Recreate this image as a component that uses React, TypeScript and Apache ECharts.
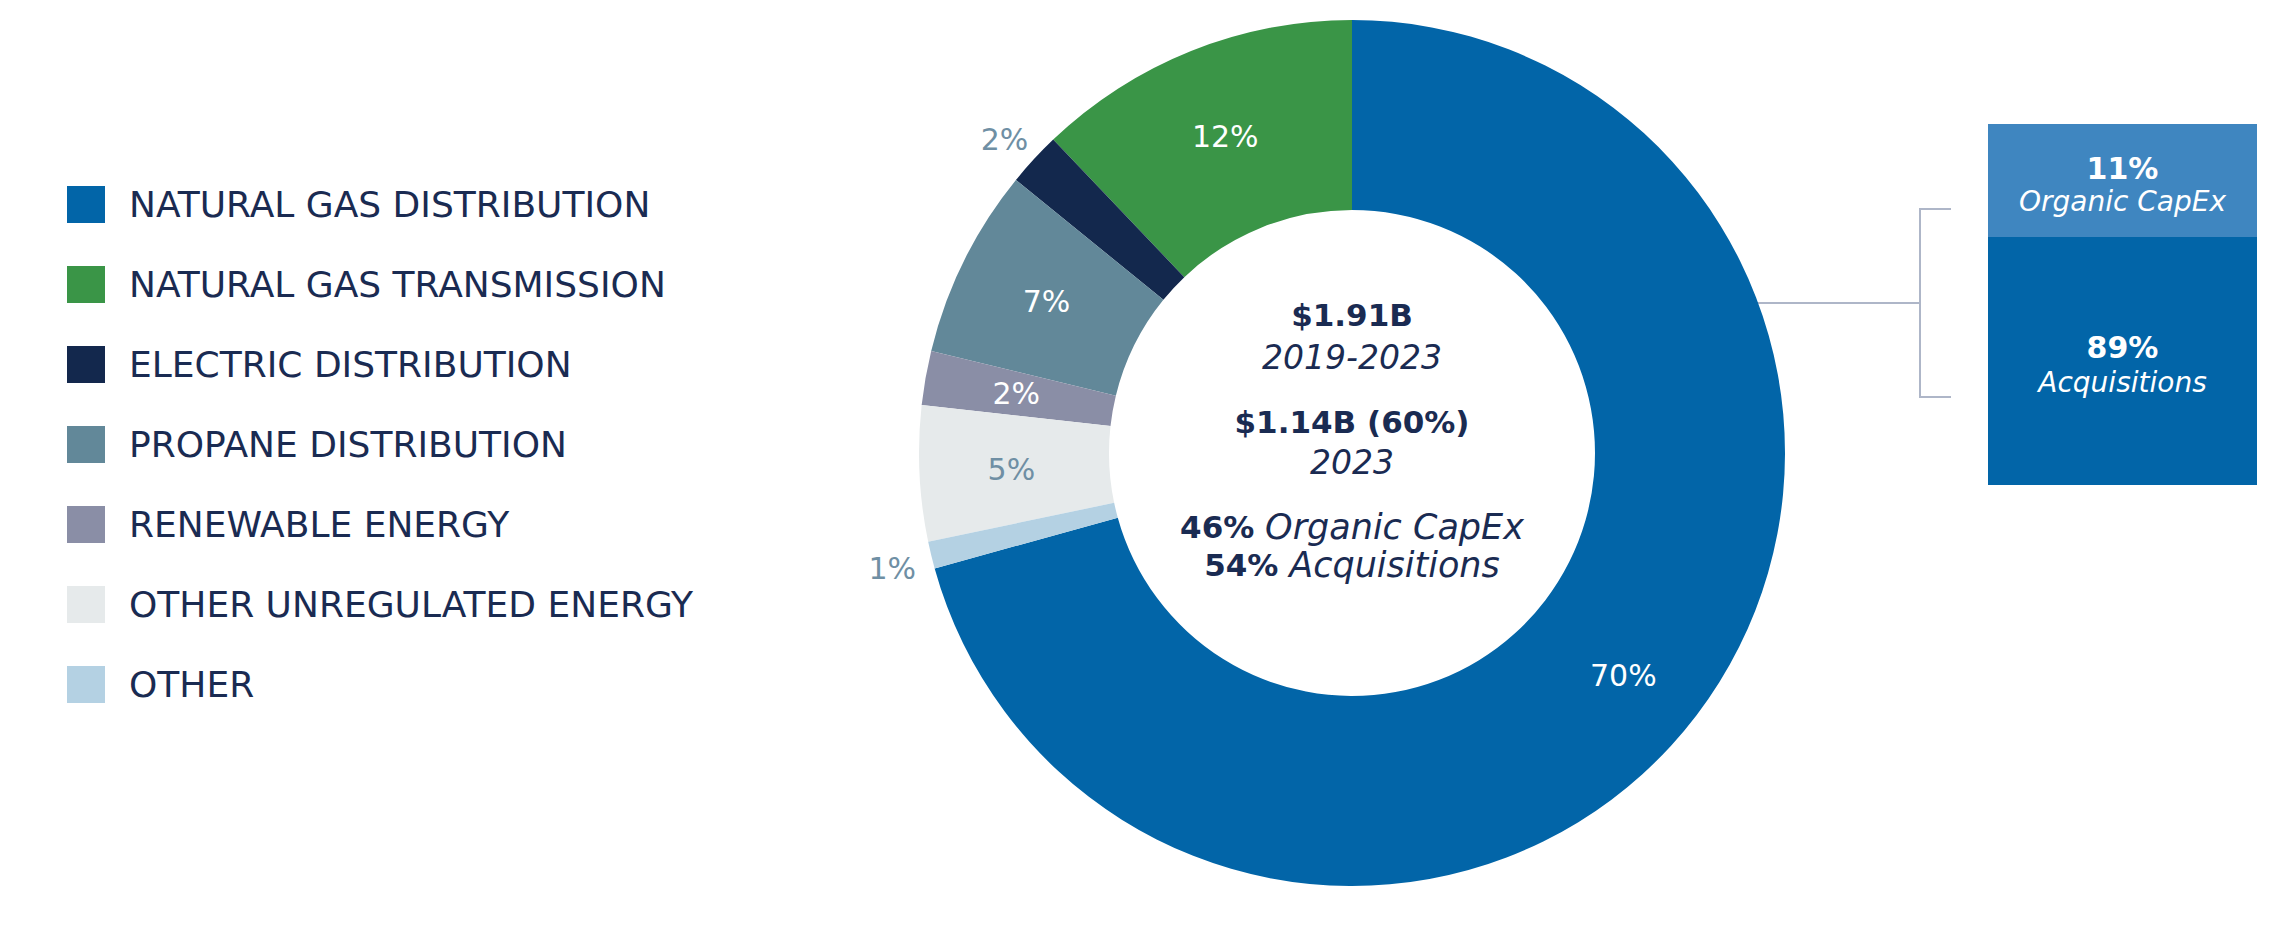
import React, { useEffect, useRef } from "react";
import * as echarts from "echarts";

const categories = [
  "NATURAL GAS DISTRIBUTION",
  "NATURAL GAS TRANSMISSION",
  "ELECTRIC DISTRIBUTION",
  "PROPANE DISTRIBUTION",
  "RENEWABLE ENERGY",
  "OTHER UNREGULATED ENERGY",
  "OTHER",
];
const shares = [70, 12, 2, 7, 2, 5, 1];
const sliceColors = ["#0265a8", "#3a9547", "#13284d", "#628899", "#8a8ea6", "#e6eaeb", "#b4d1e3"];
const labelPlacement = ["inside", "inside", "outside", "inside", "inside", "inside", "outside"];
const labelColors = ["#ffffff", "#ffffff", "#6f8fa4", "#ffffff", "#ffffff", "#6f8fa4", "#6f8fa4"];

const totalLabel = "$1.91B";
const totalPeriod = "2019-2023";
const yearLabel = "$1.14B (60%)";
const yearPeriod = "2023";
const yearSplitValues = [46, 54];
const yearSplitNames = ["Organic CapEx", "Acquisitions"];

const ngdSplitValues = [11, 89];
const ngdSplitNames = ["Organic CapEx", "Acquisitions"];
const ngdSplitColors = ["#3f86c0", "#0265a8"];

const NAVY = "#1a2b52";
const FONT = "DejaVu Sans";

// small per-slice downward nudges of a label (style only, in px)
const labelShift: Record<number, number> = { 0: 16, 2: 7, 6: 4 };

export default function App() {
  const ref = useRef<HTMLDivElement>(null);

  useEffect(() => {
    if (!ref.current) return;
    const chart = echarts.init(ref.current, null, { renderer: "svg" });
    const total = shares.reduce((a, b) => a + b, 0);
    const startAngle = 90 + 360 * (1 - shares[0] / total);
    const cx = 1352;
    const cy = 453;

    const labelFor = (i: number, show: boolean) => {
      const s = labelShift[i];
      const base: any = { show, color: labelColors[i] };
      if (s) {
        base.formatter = "\n{c}%";
        base.lineHeight = s * 2;
      }
      return base;
    };

    const mainData = categories.map((name, i) => ({
      name,
      value: shares[i],
      itemStyle: { color: sliceColors[i] },
      label: labelFor(i, labelPlacement[i] === "inside"),
    }));
    const outerData = categories.map((name, i) => ({
      name,
      value: shares[i],
      itemStyle: { color: "rgba(0,0,0,0)" },
      label: labelFor(i, labelPlacement[i] === "outside"),
    }));

    const centerText = (y: number, text: string, bold: boolean) => ({
      type: "text",
      x: cx,
      y,
      silent: true,
      style: {
        text,
        fill: NAVY,
        fontFamily: FONT,
        fontSize: bold ? 31 : 33,
        fontWeight: bold ? "bold" : "normal",
        fontStyle: bold ? "normal" : "italic",
        textAlign: "center",
        textVerticalAlign: "middle",
        align: "center",
        verticalAlign: "middle",
      },
    });
    const richCenter = (y: number, value: number, name: string) => ({
      type: "text",
      x: cx,
      y,
      silent: true,
      style: {
        text: `{b|${value}% }{i|${name}}`,
        rich: {
          b: { fontFamily: FONT, fontSize: 31, fontWeight: "bold", fill: NAVY, color: NAVY },
          i: { fontFamily: FONT, fontSize: 35, fontStyle: "italic", fill: NAVY, color: NAVY },
        },
        fill: NAVY,
        textAlign: "center",
        textVerticalAlign: "middle",
        align: "center",
        verticalAlign: "middle",
      },
    });

    const boxX = 1988;
    const boxW = 269;
    const boxMid = boxX + boxW / 2;
    const boxText = (y: number, text: string, bold: boolean) => ({
      type: "text",
      x: boxMid,
      y,
      silent: true,
      style: {
        text,
        fill: "#ffffff",
        fontFamily: FONT,
        fontSize: bold ? 30 : 28,
        fontWeight: bold ? "bold" : "normal",
        fontStyle: bold ? "normal" : "italic",
        textAlign: "center",
        textVerticalAlign: "middle",
        align: "center",
        verticalAlign: "middle",
      },
    });

    const bracketColor = "#aeb6c8";

    const option: any = {
      animation: false,
      backgroundColor: "#ffffff",
      legend: {
        orient: "vertical",
        left: 67,
        top: 186,
        padding: 0,
        itemWidth: 38,
        itemHeight: 37,
        itemGap: 43,
        selectedMode: false,
        icon: "rect",
        data: categories.map((name, i) => ({ name, icon: "rect", itemStyle: { color: sliceColors[i] } })),
        textStyle: {
          fontFamily: FONT,
          fontSize: 36,
          color: NAVY,
          padding: [2, 0, 0, 19],
        },
      },
      series: [
        {
          type: "pie",
          center: [cx, cy],
          radius: [243, 433],
          startAngle,
          clockwise: false,
          avoidLabelOverlap: false,
          silent: true,
          label: {
            position: "inside",
            formatter: "{c}%",
            fontFamily: FONT,
            fontSize: 30,
          },
          labelLine: { show: false },
          emphasis: { disabled: true },
          data: mainData,
        },
        {
          type: "pie",
          center: [cx, cy],
          radius: [428, 512],
          startAngle,
          clockwise: false,
          avoidLabelOverlap: false,
          silent: true,
          label: {
            position: "inside",
            formatter: "{c}%",
            fontFamily: FONT,
            fontSize: 30,
          },
          labelLine: { show: false },
          emphasis: { disabled: true },
          data: outerData,
        },
      ],
      graphic: [
        centerText(315, totalLabel, true),
        centerText(357, totalPeriod, false),
        centerText(422, yearLabel, true),
        centerText(462, yearPeriod, false),
        richCenter(527, yearSplitValues[0], yearSplitNames[0]),
        richCenter(565, yearSplitValues[1], yearSplitNames[1]),
        {
          type: "line",
          silent: true,
          shape: { x1: 1732, y1: 303, x2: 1920, y2: 303 },
          style: { stroke: bracketColor, lineWidth: 2 },
        },
        {
          type: "polyline",
          silent: true,
          shape: { points: [[1951, 209], [1920, 209], [1920, 397], [1951, 397]] },
          style: { stroke: bracketColor, lineWidth: 2, fill: null },
        },
        {
          type: "rect",
          silent: true,
          shape: { x: boxX, y: 124, width: boxW, height: 113 },
          style: { fill: ngdSplitColors[0] },
        },
        {
          type: "rect",
          silent: true,
          shape: { x: boxX, y: 237, width: boxW, height: 248 },
          style: { fill: ngdSplitColors[1] },
        },
        boxText(168, `${ngdSplitValues[0]}%`, true),
        boxText(201, ngdSplitNames[0], false),
        boxText(347, `${ngdSplitValues[1]}%`, true),
        boxText(382, ngdSplitNames[1], false),
      ],
    };
    chart.setOption(option);
    return () => chart.dispose();
  }, []);

  return (
    <div
      ref={ref}
      style={{ position: "fixed", left: 0, top: 0, width: 2296, height: 950, background: "#fff" }}
    />
  );
}
